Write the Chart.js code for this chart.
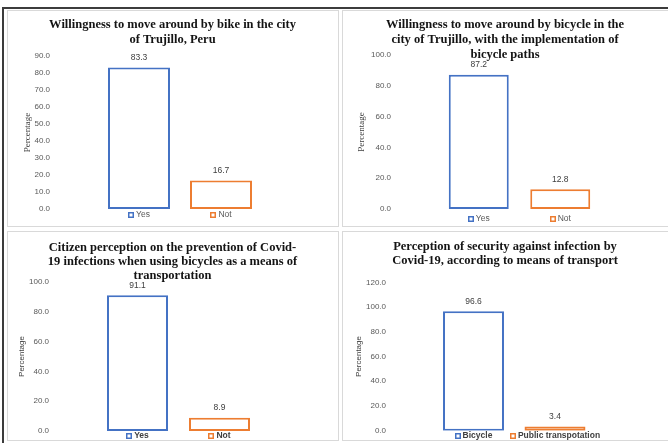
<!DOCTYPE html>
<html>
<head>
<meta charset="utf-8">
<script src="https://cdn.jsdelivr.net/npm/chart.js@4"></script>
<style>
  html, body { margin: 0; padding: 0; background: #fff; }
  #page { position: relative; width: 668px; height: 443px; overflow: hidden; background: #fff; }
  .frame { position: absolute; box-sizing: border-box; border: 1px solid #d9d9d9; }
  .rule { position: absolute; background: #3c3c3c; }
  canvas { position: absolute; }
</style>
</head>
<body>
<div id="page">
  <div class="rule" style="left:3px;top:7px;width:665px;height:2px"></div>
  <div class="rule" style="left:2px;top:7px;width:2px;height:436px"></div>
  <div class="frame" style="left:7px;top:10px;width:332px;height:217px"></div>
  <div class="frame" style="left:342px;top:10px;width:330px;height:217px"></div>
  <div class="frame" style="left:7px;top:231px;width:332px;height:210px"></div>
  <div class="frame" style="left:342px;top:231px;width:330px;height:210px"></div>
  <canvas id="bikeCity" width="331" height="216" style="left:7px;top:10px"></canvas>
  <canvas id="bikePaths" width="326" height="216" style="left:342px;top:10px"></canvas>
  <canvas id="covidPrevention" width="331" height="211" style="left:7px;top:232px"></canvas>
  <canvas id="covidSecurity" width="326" height="211" style="left:342px;top:232px"></canvas>
</div>
<script>
// Survey results (percentages)
const bikeCityLabels = ['Yes', 'Not'];
const bikeCityValues = [83.3, 16.7];
const bikeCityTitle = ['Willingness to move around by bike in the city', 'of Trujillo, Peru'];

const bikePathsLabels = ['Yes', 'Not'];
const bikePathsValues = [87.2, 12.8];
const bikePathsTitle = ['Willingness to move around by bicycle in the', 'city of Trujillo, with the implementation of', 'bicycle paths'];

const preventionLabels = ['Yes', 'Not'];
const preventionValues = [91.1, 8.9];
const preventionTitle = ['Citizen perception on the prevention of Covid-', '19 infections when using bicycles as a means of', 'transportation'];

const securityLabels = ['Bicycle', 'Public transpotation'];
const securityValues = [96.6, 3.4];
const securityTitle = ['Perception of security against infection by', 'Covid-19, according to means of transport'];

const axisTitle = 'Percentage';
const barColors = ['#4472C4', '#ED7D31'];

// value printed above each bar
const valueLabels = {
  id: 'valueLabels',
  afterDatasetsDraw(chart) {
    const ctx = chart.ctx;
    const meta = chart.getDatasetMeta(0);
    const vals = chart.data.datasets[0].data;
    ctx.save();
    ctx.font = '8.5px "Liberation Sans"';
    ctx.fillStyle = '#404040';
    ctx.textAlign = 'center';
    ctx.textBaseline = 'middle';
    meta.data.forEach((bar, i) => ctx.fillText(vals[i].toFixed(1), bar.x, bar.y - 10));
    ctx.restore();
  }
};

// small coloured key square in front of each category label
const legendKeys = {
  id: 'legendKeys',
  afterDraw(chart) {
    const ctx = chart.ctx;
    const xs = chart.scales.x;
    const t = xs.options.ticks;
    const f = Chart.helpers.toFont(t.font);
    ctx.save();
    ctx.font = f.string;
    const cy = xs.top + t.padding + f.lineHeight / 2;
    chart.data.labels.forEach((lab, i) => {
      const px = xs.getPixelForTick(i) + t.labelOffset;
      const w = ctx.measureText(lab).width;
      const x0 = Math.round(px - w / 2 - 8);
      const y0 = Math.round(cy - 3);
      ctx.fillStyle = barColors[i];
      ctx.fillRect(x0, y0, 6, 6);
      ctx.fillStyle = '#ffffff';
      ctx.fillRect(x0 + 1.5, y0 + 1.5, 3, 3);
    });
    ctx.restore();
  }
};

function drawPanel(id, labels, values, s) {
  return new Chart(document.getElementById(id), {
    type: 'bar',
    data: {
      labels: labels,
      datasets: [{
        data: values,
        backgroundColor: '#ffffff',
        borderColor: barColors,
        borderWidth: 2,
        borderSkipped: false,
        barPercentage: s.barPct,
        categoryPercentage: 1
      }]
    },
    options: {
      responsive: false,
      animation: false,
      devicePixelRatio: 1,
      layout: { padding: 0 },
      plugins: {
        legend: { display: false },
        tooltip: { enabled: false },
        title: {
          display: true,
          text: s.title,
          color: '#141414',
          font: { family: 'Liberation Serif', size: 12.5, weight: 'bold', lineHeight: s.titleLH + 'px' },
          padding: { top: s.titleTop, bottom: s.titleBottom }
        }
      },
      scales: {
        x: {
          grid: { display: false, drawTicks: false },
          border: { display: false },
          ticks: {
            color: s.tickColor,
            font: { family: 'Liberation Sans', size: 8.5, weight: s.tickWeight, lineHeight: 1.2 },
            padding: s.xPad,
            labelOffset: 4,
            maxRotation: 0,
            autoSkip: false
          },
          afterFit: sc => { sc.height = s.xHeight; }
        },
        y: {
          min: 0,
          max: s.yMax,
          grid: { display: false, drawTicks: true, tickLength: s.yGap },
          border: { display: false },
          ticks: {
            stepSize: s.yStep,
            callback: v => v.toFixed(1),
            color: '#595959',
            font: { family: 'Liberation Sans', size: 8 },
            padding: 1
          },
          title: {
            display: true,
            text: axisTitle,
            color: '#404040',
            font: s.yTitleFont,
            padding: { top: s.yTitleTop, bottom: 0 }
          },
          afterFit: sc => { sc.width = s.yWidth; }
        },
        spacer: {
          type: 'linear',
          position: 'right',
          display: true,
          grid: { display: false, drawTicks: false },
          border: { display: false },
          ticks: { display: false, padding: 0 },
          afterFit: sc => { sc.width = s.padRight; }
        }
      }
    },
    plugins: [valueLabels, legendKeys]
  });
}

const serifAxis = { family: 'Liberation Serif', size: 9, lineHeight: 1.2 };
const sansAxis = { family: 'Liberation Sans', size: 8, lineHeight: 1.2 };

drawPanel('bikeCity', bikeCityLabels, bikeCityValues, {
  title: bikeCityTitle, titleLH: 15, titleTop: 7.5, titleBottom: 8.5,
  yMax: 90, yStep: 10, yWidth: 91, yGap: 47, yTitleFont: serifAxis, yTitleTop: 15.6,
  padRight: 76, xHeight: 17, xPad: 1, barPct: 0.756,
  tickColor: '#595959', tickWeight: 'normal'
});

drawPanel('bikePaths', bikePathsLabels, bikePathsValues, {
  title: bikePathsTitle, titleLH: 15, titleTop: 7.5, titleBottom: -7.5,
  yMax: 100, yStep: 20, yWidth: 96, yGap: 46, yTitleFont: serifAxis, yTitleTop: 14.6,
  padRight: 67, xHeight: 17, xPad: 5, barPct: 0.736,
  tickColor: '#595959', tickWeight: 'normal'
});

drawPanel('covidPrevention', preventionLabels, preventionValues, {
  title: preventionTitle, titleLH: 14, titleTop: 8.7, titleBottom: -0.7,
  yMax: 100, yStep: 20, yWidth: 89.5, yGap: 46.5, yTitleFont: sansAxis, yTitleTop: 10.2,
  padRight: 77.5, xHeight: 12, xPad: 0, barPct: 0.744,
  tickColor: '#404040', tickWeight: 'bold'
});

drawPanel('covidSecurity', securityLabels, securityValues, {
  title: securityTitle, titleLH: 14, titleTop: 7.7, titleBottom: 14.6,
  yMax: 120, yStep: 20, yWidth: 90.75, yGap: 45.75, yTitleFont: sansAxis, yTitleTop: 12.2,
  padRight: 72.25, xHeight: 12.3, xPad: 0, barPct: 0.748,
  tickColor: '#404040', tickWeight: 'bold'
});
</script>
</body>
</html>
